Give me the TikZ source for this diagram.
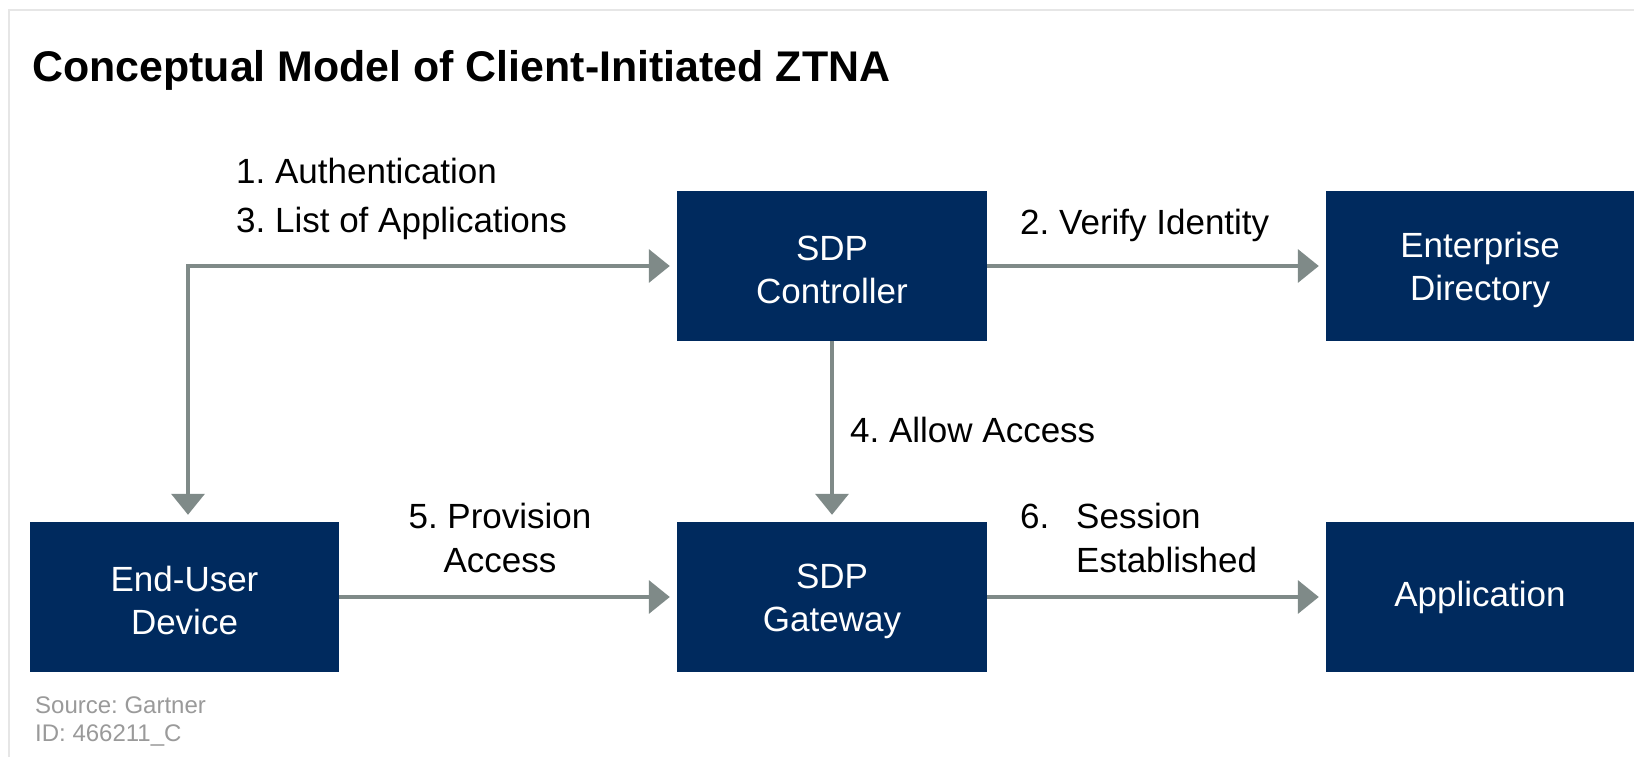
\documentclass[tikz,border=0pt]{standalone}
\usepackage{fontspec}
\setmainfont{Liberation Sans}
\usetikzlibrary{arrows.meta}
\frenchspacing
\definecolor{navy}{HTML}{002A5E}
\definecolor{arrowgray}{HTML}{7F8A88}
\definecolor{framegray}{HTML}{E6E6E6}
\definecolor{srcgray}{HTML}{9A9A9A}
\newcommand{\boxstrut}{\rule{0pt}{33pt}}
\tikzset{
  box/.style={fill=navy, text=white, minimum height=150pt, inner sep=0pt, align=center,
    font=\fontsize{35}{43}\selectfont},
  lbl/.style={inner sep=0pt, font=\fontsize{35}{40}\selectfont, text=black},
  src/.style={inner sep=0pt, font=\fontsize{24}{27}\selectfont, text=srcgray},
  conn/.style={draw=arrowgray, line width=3.5pt, -{Triangle[length=21pt,width=33pt]}, shorten >=7pt},
}
\begin{document}
\begin{tikzpicture}[x=1pt,y=-1pt]
\useasboundingbox (0,0) rectangle (1634,757);
\fill[white] (0,0) rectangle (1634,757);
\draw[framegray, line width=2pt] (9,757) -- (9,10) -- (1634,10);
\node[inner sep=0pt, anchor=base west, font=\fontsize{42.9}{48}\selectfont\bfseries] (title) at (32,82) {Conceptual Model of Client-Initiated ZTNA};
% boxes
\node[box, minimum width=309pt] (eu) at (184.5,597) {\boxstrut End-User\\Device};
\node[box, minimum width=310pt] (ctrl) at (832,266) {\boxstrut SDP\\Controller};
\node[box, minimum width=310pt] (gw) at (832,597) {\boxstrut SDP\\Gateway};
\node[box, minimum width=308pt] (dir) at (1480,266) {\boxstrut Enterprise\\Directory};
\node[box, minimum width=308pt] (app) at (1480,597) {Application};
% connectors
\draw[conn, {Triangle[length=21pt,width=33pt]}-{Triangle[length=21pt,width=33pt]}, shorten <=7pt] ([xshift=3.5pt]eu.north) |- (ctrl.west);
\draw[conn] (ctrl) -- (dir);
\draw[conn] (ctrl) -- (gw);
\draw[conn] (eu) -- (gw);
\draw[conn] (gw) -- (app);
% labels
\node[lbl, anchor=base west] (l1) at (236,183) {1. Authentication};
\node[lbl, anchor=base west] (l3) at (236,232) {3. List of Applications};
\node[lbl, anchor=base west] (l2) at (1020,234) {2. Verify Identity};
\node[lbl, anchor=base west] (l4) at (850,442) {4. Allow Access};
\node[lbl, anchor=base] (l5a) at (500,528) {5. Provision};
\node[lbl, anchor=base] (l5b) at (500,572) {Access};
\node[lbl, anchor=base west] (l6a) at (1020,528) {\makebox[56pt][l]{6.}Session};
\node[lbl, anchor=base west] (l6b) at (1020,572) {\hspace*{56pt}Established};
% source
\node[src, anchor=base west] (s1) at (35,713) {Source: Gartner};
\node[src, anchor=base west] (s2) at (35,741) {ID: 466211\_C};
\end{tikzpicture}
\end{document}
